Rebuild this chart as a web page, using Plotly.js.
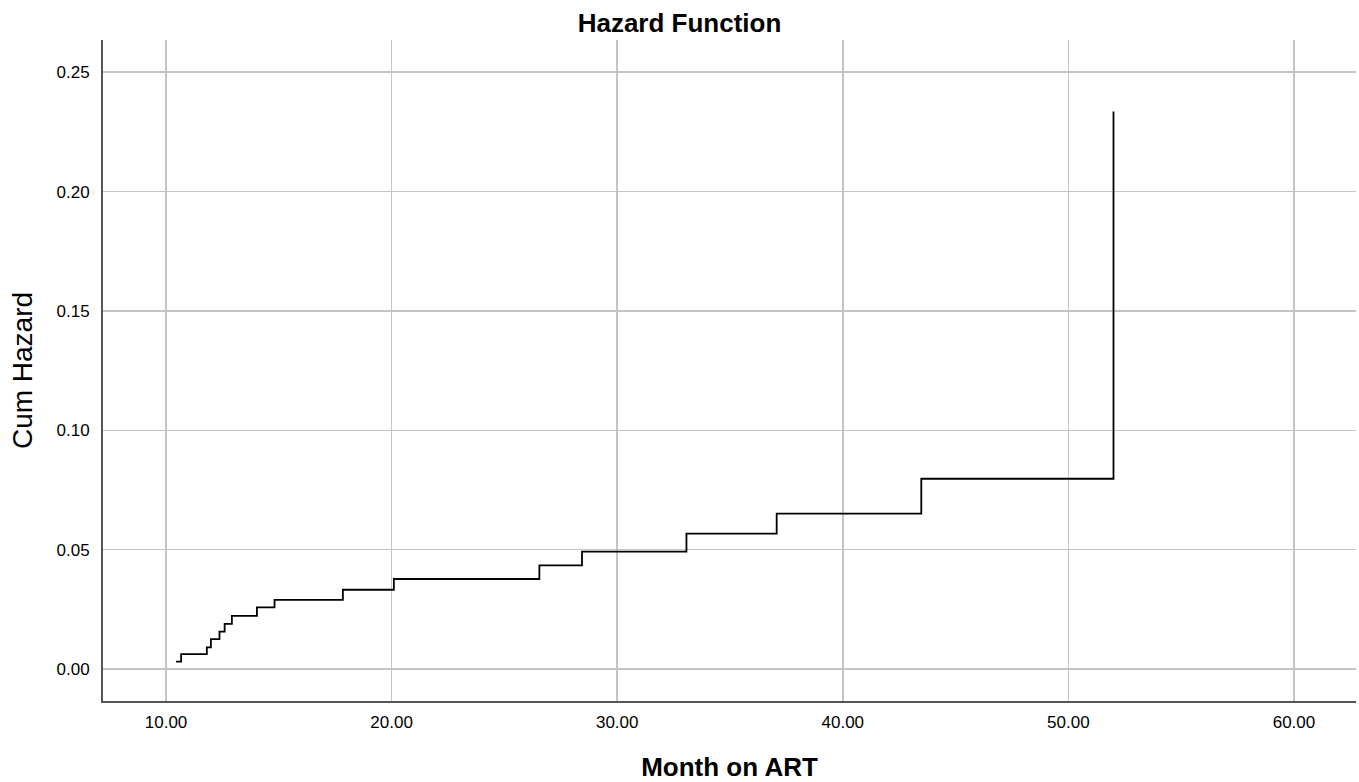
<!DOCTYPE html>
<html>
<head>
<meta charset="utf-8">
<script src="https://cdn.plot.ly/plotly-3.0.1.min.js"></script>
<style>
html,body{margin:0;padding:0;background:#fff;}
#chart{width:1359px;height:782px;}
</style>
</head>
<body>
<div id="chart"></div>
<script>
// Step times (Month on ART) and cumulative hazard values
const months = [10.44, 10.67, 11.81, 11.99, 12.37, 12.60, 12.92, 14.03, 14.81, 17.84, 20.10, 26.55, 28.44, 33.07, 37.07, 43.48, 52.00];
const cumHazard = [0.0031, 0.0062, 0.0091, 0.0125, 0.0157, 0.0189, 0.0223, 0.0258, 0.0290, 0.0332, 0.0377, 0.0434, 0.0492, 0.0567, 0.0651, 0.0797, 0.2335];
const xTickVals = [10, 20, 30, 40, 50, 60];
const xTickText = ['10.00', '20.00', '30.00', '40.00', '50.00', '60.00'];
const yTickVals = [0, 0.05, 0.10, 0.15, 0.20, 0.25];
const yTickText = ['0.00', '0.05', '0.10', '0.15', '0.20', '0.25'];

const FONT = 'Liberation Sans, Arial, sans-serif';

const trace = {
  x: months,
  y: cumHazard,
  type: 'scatter',
  mode: 'lines',
  line: {shape: 'hv', color: '#000000', width: 1.8},
  hoverinfo: 'x+y',
  showlegend: false
};

const layout = {
  width: 1359,
  height: 782,
  paper_bgcolor: '#ffffff',
  plot_bgcolor: '#ffffff',
  margin: {l: 103, r: 3, t: 40, b: 81},
  title: {
    text: '<b>Hazard Function</b>',
    font: {family: FONT, size: 26, color: '#000'},
    x: 0.5, xref: 'container', xanchor: 'center',
    y: 1 - 22.5/782, yref: 'container', yanchor: 'middle'
  },
  xaxis: {
    range: [7.207, 62.75],
    tickvals: xTickVals,
    ticktext: xTickText,
    ticks: '',
    showgrid: true,
    gridcolor: '#c4c4c4',
    gridwidth: 1.5,
    zeroline: false,
    showline: true,
    linecolor: '#555555',
    linewidth: 2,
    mirror: false,
    tickfont: {family: FONT, size: 17, color: '#000'},
    ticklabelstandoff: 5,
    title: {text: '<b>Month on ART</b>', font: {family: FONT, size: 26, color: '#000'}, standoff: 27}
  },
  yaxis: {
    range: [-0.0134, 0.2635],
    tickvals: yTickVals,
    ticktext: yTickText,
    ticks: '',
    showgrid: true,
    gridcolor: '#c4c4c4',
    gridwidth: 1.5,
    zeroline: false,
    showline: true,
    linecolor: '#555555',
    linewidth: 2,
    tickfont: {family: FONT, size: 17, color: '#000'},
    ticklabelstandoff: 8,
    title: {text: 'Cum Hazard', font: {family: FONT, size: 28, color: '#000'}, standoff: 16}
  }
};

Plotly.newPlot('chart', [trace], layout, {displayModeBar: false, staticPlot: true});
</script>
</body>
</html>
